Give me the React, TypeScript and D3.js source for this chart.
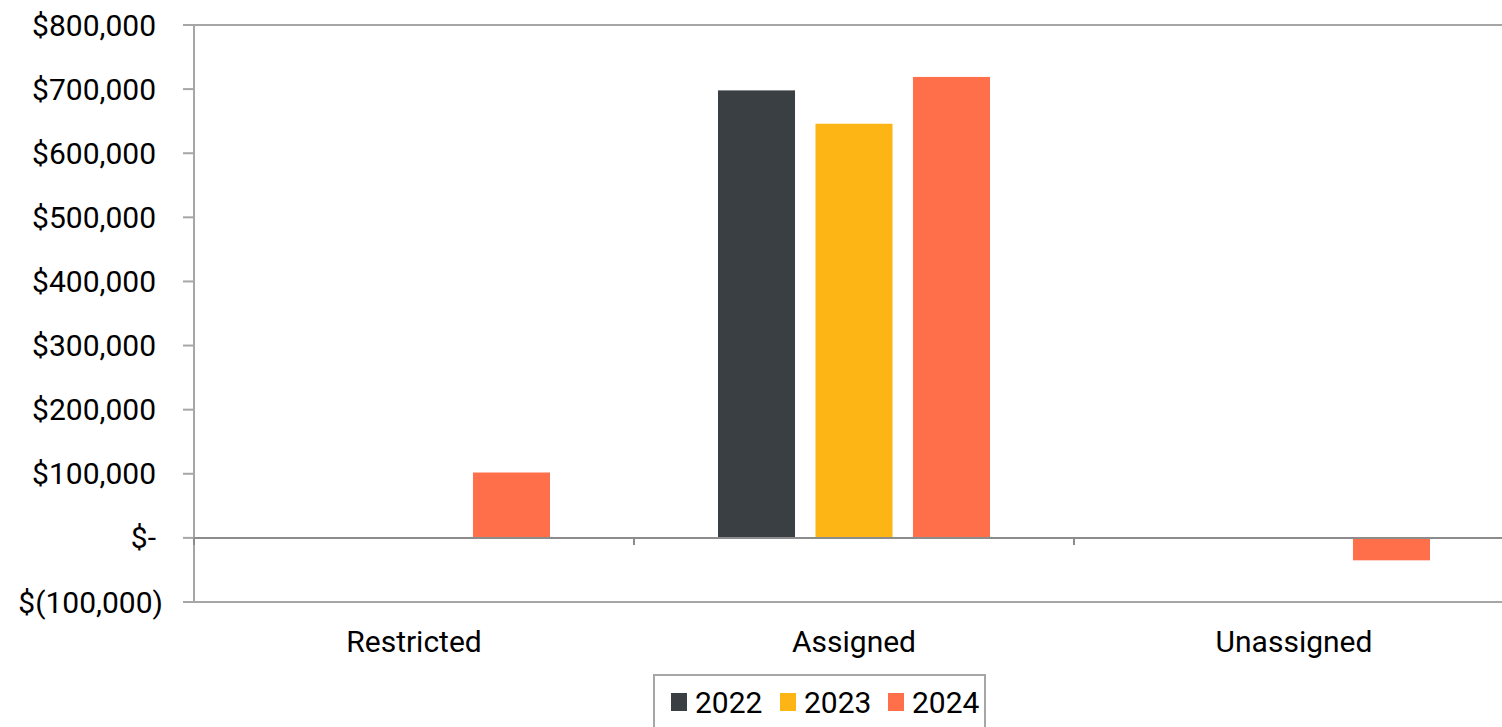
import React from "react";
import * as d3 from "d3";

const categories = ["Restricted", "Assigned", "Unassigned"];
const seriesNames = ["2022", "2023", "2024"];
const values2022 = [0, 698000, 0];
const values2023 = [0, 646000, 0];
const values2024 = [102000, 719000, -35000];
const seriesColors = ["#3A3F44", "#FDB515", "#FF6F4A"];
const yTicks = [-100000, 0, 100000, 200000, 300000, 400000, 500000, 600000, 700000, 800000];

const W = 1502;
const H = 727;
const FONT = "Roboto, 'Noto Sans', sans-serif";
const FS = 30;

function fmt(v: number) {
  if (v === 0) return "$-";
  const s = d3.format(",")(Math.abs(v));
  return v < 0 ? `$(${s})` : `$${s}`;
}

export default function App() {
  const left = 194;
  const right = 1514;
  const y = d3.scaleLinear().domain([-100000, 800000]).range([602, 25]);
  const x0 = d3.scaleBand().domain(categories).range([left, right]).paddingInner(0).paddingOuter(0);
  const groupW = 272;
  const x1 = d3.scaleBand().domain(seriesNames).range([0, groupW]).paddingInner(0.21);
  const series = [values2022, values2023, values2024];
  const axisColor = "#A6A6A6";
  const zeroColor = "#8C8C8C";
  const bw = x0.bandwidth();

  return (
    <svg width={W} height={H} style={{ position: "absolute", left: 0, top: 0, background: "#fff" }} fontFamily={FONT}>
      <rect x={0} y={0} width={W} height={H} fill="#fff" />
      {/* frame lines */}
      <line x1={left} x2={W} y1={y(800000)} y2={y(800000)} stroke={axisColor} strokeWidth={2} />
      <line x1={left} x2={W} y1={y(-100000)} y2={y(-100000)} stroke={axisColor} strokeWidth={2} />
      <line x1={left} x2={left} y1={y(800000)} y2={y(-100000)} stroke={axisColor} strokeWidth={2} />
      {yTicks.map((t) => (
        <g key={t}>
          <line x1={left - 11} x2={left} y1={y(t)} y2={y(t)} stroke={axisColor} strokeWidth={2} />
          <text
            x={t < 0 ? 163 : 156}
            y={y(t)}
            textAnchor="end"
            dominantBaseline="central"
            fontSize={FS}
            fill="#000"
          >
            {fmt(t)}
          </text>
        </g>
      ))}
      {/* bars */}
      {categories.map((c, ci) => {
        const gx = (x0(c) as number) + bw / 2 - groupW / 2;
        return (
          <g key={c}>
            {seriesNames.map((s, si) => {
              const v = series[si][ci];
              if (v === 0) return null;
              const yTop = y(Math.max(0, v));
              const yBot = y(Math.min(0, v));
              return (
                <rect
                  key={s}
                  x={gx + (x1(s) as number)}
                  y={yTop}
                  width={x1.bandwidth()}
                  height={yBot - yTop}
                  fill={seriesColors[si]}
                />
              );
            })}
          </g>
        );
      })}
      {/* zero axis */}
      <line x1={left} x2={W} y1={y(0)} y2={y(0)} stroke={zeroColor} strokeWidth={2} />
      {categories.map((c) => (
        <line
          key={"tk" + c}
          x1={x0(c) as number}
          x2={x0(c) as number}
          y1={y(0)}
          y2={y(0) + 7}
          stroke={zeroColor}
          strokeWidth={2}
        />
      ))}
      {categories.map((c) => (
        <text
          key={"lb" + c}
          x={(x0(c) as number) + bw / 2}
          y={641}
          textAnchor="middle"
          dominantBaseline="central"
          fontSize={FS}
          fill="#000"
        >
          {c}
        </text>
      ))}
      {/* legend */}
      <rect x={654} y={675} width={331} height={60} fill="#fff" stroke={axisColor} strokeWidth={2} />
      {seriesNames.map((s, i) => {
        const lx = [671, 780, 888][i];
        return (
          <g key={"lg" + s}>
            <rect x={lx} y={693} width={16} height={18} fill={seriesColors[i]} />
            <text x={lx + 24} y={702} dominantBaseline="central" fontSize={FS} fill="#000">
              {s}
            </text>
          </g>
        );
      })}
    </svg>
  );
}
